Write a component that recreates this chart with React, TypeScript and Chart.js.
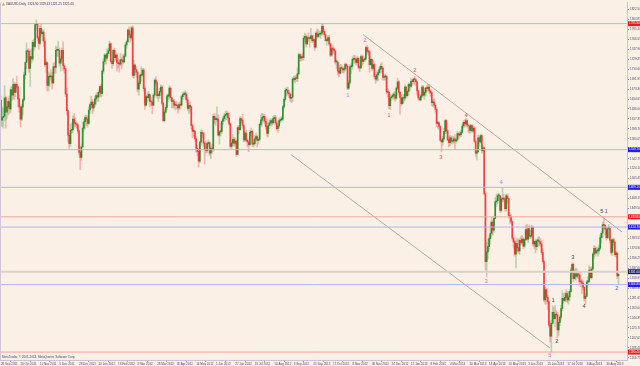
import React, { useEffect, useRef } from "react";
import { Chart, registerables } from "chart.js";

Chart.register(...registerables);

// ---- Daily XAUUSD bars, 28 Sep 2011 .. 13 Sep 2013 ----
const opens = [
1652,1615,1620,1622,1657,1630,1640,1650,1636,1672,
1662,1682,1667,1682,1677,1655,1640,1617,1640,1653,
1700,1723,1745,1744,1712,1734,1730,1761,1753,1794,
1795,1769,1759,1787,1777,1780,1763,1719,1723,1680,
1697,1696,1697,1685,1715,1714,1746,1746,1746,1722,
1730,1746,1717,1711,1664,1633,1587,1571,1596,1597,
1617,1610,1608,1606,1595,1555,1545,1565,1600,1612,
1620,1617,1609,1634,1644,1649,1638,1645,1655,1661,
1658,1667,1678,1665,1707,1725,1737,1731,1740,1745,
1758,1725,1721,1746,1732,1737,1723,1721,1720,1728,
1727,1724,1735,1756,1762,1784,1775,1769,1788,1699,
1718,1710,1705,1673,1684,1699,1700,1709,1674,1643,
1659,1657,1663,1650,1649,1643,1662,1690,1685,1661,
1661,1669,1677,1647,1614,1630,1639,1660,1660,1675,
1657,1650,1650,1643,1643,1642,1638,1644,1643,1659,
1663,1664,1664,1653,1637,1643,1640,1605,1594,1594,
1580,1562,1556,1538,1574,1592,1590,1572,1560,1558,
1571,1573,1553,1562,1560,1622,1616,1616,1617,1587,
1593,1594,1613,1618,1623,1626,1628,1619,1608,1566,
1572,1579,1572,1576,1551,1601,1597,1618,1615,1605,
1578,1591,1577,1574,1569,1592,1594,1570,1571,1580,
1584,1577,1579,1607,1615,1620,1622,1613,1603,1590,
1605,1610,1614,1610,1618,1620,1610,1599,1604,1614,
1616,1617,1640,1654,1671,1671,1666,1664,1656,1658,
1692,1691,1694,1693,1702,1738,1731,1734,1732,1769,
1772,1758,1770,1768,1768,1773,1764,1766,1752,1778,
1772,1776,1776,1778,1791,1781,1775,1764,1765,1770,
1758,1737,1749,1748,1745,1724,1724,1707,1703,1713,
1712,1709,1711,1719,1716,1675,1685,1715,1716,1729,
1731,1729,1723,1731,1714,1713,1734,1725,1728,1730,
1751,1744,1743,1719,1729,1712,1719,1697,1692,1700,
1704,1710,1716,1712,1695,1696,1697,1668,1667,1642,
1657,1659,1662,1662,1656,1675,1687,1667,1657,1646,
1657,1656,1677,1661,1669,1682,1678,1688,1687,1692,
1691,1687,1670,1657,1653,1660,1677,1662,1667,1675,
1674,1677,1670,1666,1648,1649,1643,1635,1609,1610,
1603,1577,1574,1580,1594,1614,1595,1578,1573,1582,
1575,1576,1580,1576,1578,1590,1587,1588,1592,1604,
1611,1608,1614,1606,1604,1596,1605,1595,1600,1575,
1553,1556,1582,1574,1586,1558,1563,1477,1350,1368,
1378,1393,1403,1424,1409,1431,1462,1464,1473,1473,
1446,1467,1469,1467,1449,1473,1468,1436,1434,1425,
1394,1387,1364,1384,1376,1370,1390,1386,1392,1379,
1391,1410,1392,1412,1397,1398,1414,1383,1388,1378,
1389,1389,1387,1383,1367,1350,1278,1297,1283,1275,
1231,1210,1234,1255,1243,1251,1250,1222,1236,1246,
1262,1281,1277,1283,1290,1278,1284,1294,1334,1345,
1318,1327,1322,1327,1325,1313,1312,1309,1302,1281,
1285,1312,1313,1334,1320,1336,1364,1375,1366,1370,
1370,1375,1395,1403,1419,1418,1411,1395,1412,1412,
1390,1367,1391,1386,1363,1366,1323
];
const highs = [
1660,1640,1637,1680,1660,1650,1657,1660,1677,1678,
1693,1685,1685,1697,1680,1662,1643,1645,1656,1705,
1725,1760,1748,1748,1745,1748,1764,1767,1796,1803,
1797,1772,1792,1795,1785,1784,1770,1730,1725,1706,
1703,1710,1704,1722,1723,1754,1752,1763,1750,1735,
1750,1762,1721,1712,1675,1635,1590,1607,1610,1623,
1628,1620,1612,1609,1597,1565,1570,1612,1617,1624,
1625,1623,1640,1646,1660,1654,1650,1660,1665,1667,
1671,1680,1682,1710,1730,1740,1739,1748,1750,1763,
1760,1729,1748,1750,1745,1740,1730,1728,1740,1733,
1738,1740,1760,1765,1786,1790,1781,1791,1792,1727,
1720,1716,1707,1688,1702,1715,1712,1712,1678,1662,
1666,1669,1665,1658,1652,1665,1693,1696,1688,1665,
1675,1681,1680,1648,1635,1644,1663,1665,1680,1677,
1658,1655,1654,1648,1650,1645,1648,1650,1662,1667,
1668,1670,1668,1657,1647,1649,1642,1608,1600,1597,
1584,1568,1560,1576,1597,1596,1592,1574,1576,1574,
1578,1575,1566,1570,1626,1628,1622,1640,1625,1596,
1609,1615,1622,1628,1631,1633,1630,1628,1610,1576,
1588,1583,1582,1578,1605,1605,1622,1620,1626,1607,
1594,1596,1580,1576,1596,1600,1596,1578,1586,1591,
1587,1582,1610,1625,1628,1627,1626,1620,1617,1610,
1615,1618,1617,1622,1624,1624,1614,1608,1618,1620,
1622,1643,1657,1675,1676,1677,1672,1666,1664,1695,
1697,1698,1700,1713,1741,1740,1738,1740,1773,1778,
1775,1773,1778,1771,1787,1775,1774,1769,1781,1786,
1784,1782,1782,1796,1796,1785,1778,1768,1774,1774,
1760,1752,1755,1750,1747,1730,1726,1718,1720,1719,
1715,1715,1722,1722,1718,1689,1718,1722,1733,1737,
1736,1732,1735,1733,1718,1737,1737,1735,1732,1754,
1755,1752,1746,1733,1730,1727,1722,1702,1706,1709,
1714,1720,1723,1715,1700,1702,1699,1674,1670,1664,
1662,1665,1668,1668,1677,1694,1689,1669,1662,1662,
1663,1681,1679,1672,1685,1684,1693,1692,1694,1697,
1693,1688,1672,1663,1664,1680,1680,1674,1677,1680,
1682,1682,1672,1668,1654,1655,1646,1638,1613,1612,
1605,1582,1585,1600,1616,1616,1598,1584,1586,1585,
1585,1584,1588,1582,1594,1592,1594,1597,1608,1614,
1616,1618,1616,1608,1606,1607,1607,1604,1603,1578,
1562,1587,1585,1589,1588,1568,1565,1480,1386,1392,
1398,1424,1433,1428,1435,1470,1476,1478,1478,1474,
1470,1488,1476,1470,1476,1477,1470,1442,1438,1428,
1396,1390,1389,1394,1392,1393,1397,1399,1395,1393,
1418,1420,1416,1419,1408,1418,1416,1389,1392,1392,
1396,1397,1393,1389,1375,1352,1302,1300,1286,1277,
1237,1240,1267,1264,1268,1258,1255,1242,1250,1268,
1295,1290,1292,1297,1294,1293,1298,1338,1348,1347,
1335,1338,1336,1330,1330,1324,1317,1314,1303,1290,
1315,1322,1342,1340,1340,1367,1380,1378,1377,1377,
1381,1400,1406,1424,1434,1420,1415,1414,1420,1416,
1392,1393,1394,1388,1370,1368,1331
];
const lows = [
1605,1603,1600,1614,1600,1617,1625,1627,1630,1652,
1655,1654,1659,1668,1640,1630,1603,1614,1625,1650,
1692,1712,1727,1705,1678,1722,1726,1745,1750,1784,
1764,1748,1756,1772,1764,1753,1715,1705,1670,1670,
1678,1690,1673,1683,1702,1703,1734,1735,1716,1707,
1725,1708,1703,1659,1625,1574,1562,1566,1590,1592,
1600,1603,1600,1590,1550,1522,1540,1565,1595,1598,
1605,1602,1607,1628,1637,1627,1632,1640,1645,1650,
1650,1660,1658,1660,1702,1720,1720,1727,1735,1740,
1722,1712,1717,1725,1728,1707,1713,1705,1717,1711,
1720,1722,1733,1750,1760,1771,1761,1765,1695,1693,
1700,1695,1668,1662,1680,1688,1697,1668,1635,1641,
1648,1652,1640,1642,1627,1642,1658,1680,1656,1650,
1656,1666,1643,1612,1611,1628,1634,1650,1655,1652,
1638,1638,1637,1634,1636,1628,1634,1636,1641,1653,
1660,1655,1648,1633,1627,1630,1598,1582,1585,1575,
1555,1548,1527,1535,1568,1582,1566,1533,1553,1554,
1566,1548,1543,1553,1556,1609,1605,1612,1585,1570,
1585,1590,1607,1612,1615,1616,1612,1605,1563,1562,
1567,1566,1568,1547,1550,1590,1596,1609,1600,1574,
1575,1574,1565,1556,1567,1585,1566,1565,1568,1576,
1565,1570,1576,1603,1605,1612,1609,1598,1585,1583,
1600,1605,1604,1607,1610,1606,1596,1592,1600,1610,
1612,1614,1636,1650,1660,1662,1657,1650,1648,1650,
1688,1685,1688,1687,1700,1725,1726,1728,1727,1762,
1752,1757,1762,1752,1766,1760,1761,1745,1750,1768,
1770,1770,1768,1774,1775,1771,1762,1755,1762,1755,
1734,1735,1740,1738,1720,1712,1700,1696,1701,1703,
1704,1703,1707,1710,1672,1672,1682,1702,1710,1724,
1722,1718,1720,1711,1706,1712,1718,1720,1725,1728,
1740,1737,1705,1717,1708,1710,1692,1684,1688,1689,
1700,1703,1705,1690,1690,1690,1664,1658,1636,1635,
1652,1655,1654,1650,1654,1672,1662,1626,1642,1644,
1648,1652,1656,1658,1662,1670,1676,1680,1683,1682,
1680,1662,1653,1652,1651,1657,1660,1654,1660,1668,
1670,1665,1660,1642,1640,1640,1630,1603,1600,1597,
1575,1555,1568,1577,1589,1590,1576,1565,1567,1571,
1570,1572,1560,1572,1575,1580,1583,1584,1590,1600,
1602,1604,1602,1592,1590,1592,1593,1592,1573,1547,
1540,1553,1566,1572,1553,1555,1475,1335,1321,1355,
1370,1383,1397,1400,1405,1430,1453,1458,1463,1442,
1443,1462,1462,1445,1444,1460,1431,1422,1420,1390,
1375,1360,1338,1368,1365,1363,1381,1383,1374,1376,
1389,1390,1385,1394,1393,1395,1379,1374,1366,1372,
1377,1380,1378,1363,1346,1275,1270,1270,1260,1227,
1199,1180,1233,1240,1228,1245,1207,1212,1230,1240,
1258,1272,1275,1275,1273,1270,1276,1292,1330,1312,
1317,1315,1320,1318,1306,1303,1290,1297,1276,1270,
1284,1306,1310,1318,1317,1334,1356,1360,1364,1360,
1364,1372,1385,1395,1410,1400,1390,1393,1394,1385,
1364,1361,1380,1360,1358,1318,1308
];
const closes = [
1615,1620,1622,1657,1630,1640,1650,1636,1672,1662,
1682,1667,1682,1677,1655,1640,1617,1640,1653,1700,
1723,1745,1744,1712,1734,1730,1761,1753,1794,1795,
1769,1759,1787,1777,1780,1763,1719,1723,1680,1697,
1696,1697,1685,1715,1714,1746,1746,1746,1722,1730,
1746,1717,1711,1664,1633,1587,1571,1596,1597,1617,
1610,1608,1606,1595,1555,1545,1565,1600,1612,1620,
1617,1609,1634,1644,1649,1638,1645,1655,1661,1658,
1667,1678,1665,1707,1725,1737,1731,1740,1745,1758,
1725,1721,1746,1732,1737,1723,1721,1720,1728,1727,
1724,1735,1756,1762,1784,1775,1769,1788,1699,1718,
1710,1705,1673,1684,1699,1700,1709,1674,1643,1659,
1657,1663,1650,1649,1643,1662,1690,1685,1661,1661,
1669,1677,1647,1614,1630,1639,1660,1660,1675,1657,
1650,1650,1643,1643,1642,1638,1644,1643,1659,1663,
1664,1664,1653,1637,1643,1640,1605,1594,1594,1580,
1562,1556,1538,1574,1592,1590,1572,1560,1558,1571,
1573,1553,1562,1560,1622,1616,1616,1617,1587,1593,
1594,1613,1618,1623,1626,1628,1619,1608,1566,1572,
1579,1572,1576,1551,1601,1597,1618,1615,1605,1578,
1591,1577,1574,1569,1592,1594,1570,1571,1580,1584,
1577,1579,1607,1615,1620,1622,1613,1603,1590,1605,
1610,1614,1610,1618,1620,1610,1599,1604,1614,1616,
1617,1640,1654,1671,1671,1666,1664,1656,1658,1692,
1691,1694,1693,1702,1738,1731,1734,1732,1769,1772,
1758,1770,1768,1768,1773,1764,1766,1752,1778,1772,
1776,1776,1778,1791,1781,1775,1764,1765,1770,1758,
1737,1749,1748,1745,1724,1724,1707,1703,1713,1712,
1709,1711,1719,1716,1675,1685,1715,1716,1729,1731,
1729,1723,1731,1714,1713,1734,1725,1728,1730,1751,
1744,1743,1719,1729,1712,1719,1697,1692,1700,1704,
1710,1716,1712,1695,1696,1697,1668,1667,1642,1657,
1659,1662,1662,1656,1675,1687,1667,1657,1646,1657,
1656,1677,1661,1669,1682,1678,1688,1687,1692,1691,
1687,1670,1657,1653,1660,1677,1662,1667,1675,1674,
1677,1670,1666,1648,1649,1643,1635,1609,1610,1603,
1577,1574,1580,1594,1614,1595,1578,1573,1582,1575,
1576,1580,1576,1578,1590,1587,1588,1592,1604,1611,
1608,1614,1606,1604,1596,1605,1595,1600,1575,1553,
1556,1582,1574,1586,1558,1563,1477,1350,1368,1378,
1393,1403,1424,1409,1431,1462,1464,1473,1473,1446,
1467,1469,1467,1449,1473,1468,1436,1434,1425,1394,
1387,1364,1384,1376,1370,1390,1386,1392,1379,1391,
1410,1392,1412,1397,1398,1414,1383,1388,1378,1389,
1389,1387,1383,1367,1350,1278,1297,1283,1275,1231,
1210,1234,1255,1243,1251,1250,1222,1236,1246,1262,
1281,1277,1283,1290,1278,1284,1294,1334,1345,1318,
1327,1322,1327,1325,1313,1312,1309,1302,1281,1285,
1312,1313,1334,1320,1336,1364,1375,1366,1370,1370,
1375,1395,1403,1419,1418,1411,1395,1412,1412,1390,
1367,1391,1386,1363,1366,1323,1326
];

// ---- axis labels ----
const xTickLabels = [
"28 Sep 2011","20 Oct 2011","11 Nov 2011","5 Dec 2011","28 Dec 2011","20 Jan 2012",
"13 Feb 2012","6 Mar 2012","28 Mar 2012","20 Apr 2012","14 May 2012","5 Jun 2012",
"27 Jun 2012","19 Jul 2012","10 Aug 2012","3 Sep 2012","25 Sep 2012","17 Oct 2012",
"8 Nov 2012","30 Nov 2012","24 Dec 2012","17 Jan 2013","8 Feb 2013","4 Mar 2013",
"26 Mar 2013","18 Apr 2013","10 May 2013","3 Jun 2013","25 Jun 2013","17 Jul 2013",
"8 Aug 2013","30 Aug 2013"
];
const xTickBars = [0,16,32,48,64,80,96,112,128,144,160,176,192,208,224,240,256,272,288,304,320,336,352,368,384,400,416,432,448,464,480,496];
const yTickValues = [
1822.50,1803.85,1785.20,1766.55,1747.90,1729.25,1710.60,1691.95,1673.30,1654.65,
1636.00,1617.35,1598.70,1580.05,1561.40,1542.75,1524.10,1505.45,1486.80,1468.15,
1449.50,1430.85,1412.20,1393.55,1374.90,1356.25,1337.60,1318.95,1300.30,1281.65,
1263.00,1244.35,1225.70,1207.05,1188.40,1169.75
];

// ---- drawn objects (price levels, trend lines, wave counts) ----
const redLevels = [1795.90, 1433.80, 1180.40];
const blueLevels = [1559.70, 1489.10, 1414.70, 1306.80];
const bidLevels = [1331.00];
const upperTrendBars = [296.7, 508.9];
const upperTrendPrices = [1775.4, 1405.4];
const lowerTrendBars = [237.7, 449.9];
const lowerTrendPrices = [1550.4, 1187.8];
const waveTexts = ["1","2","1","2","3","4","3","4","5","1","2","3","4","5","1","2"];
const waveBars = [284.4,298.3,318.0,339.3,360.6,381.1,397.5,409.8,449.9,452.4,455.6,468.7,477.8,492.5,495.8,504.8];
const wavePrices = [1662.0,1764.3,1624.8,1708.5,1544.9,1624.8,1312.4,1498.4,1174.8,1277.1,1200.9,1357.1,1266.0,1444.4,1444.4,1299.4];
const waveGroups = [0,0,1,1,1,1,0,0,0,2,2,2,2,2,3,3];

const headerText = "XAUUSD,Daily  1324.90 1329.43 1321.25 1325.43";
const footerText = "MetaTrader, \u00A9 2001-2013, MetaQuotes Software Corp.";

// ---- styles ----
const BG = "#FBF0E6";
const FONT = "'Liberation Sans', Arial, sans-serif";
const AXIS_TEXT = "#4a4a72";
const waveColors = ["#E46AD8", "#C8605A", "#505050", "#5A5AD8"];

export default function App() {
  const ref = useRef<HTMLCanvasElement | null>(null);

  useEffect(() => {
    const canvas = ref.current;
    if (!canvas) return;
    const wickData = closes.map((_, i) => ({ x: i, y: [lows[i], highs[i]] }));
    const bodyData = closes.map((c, i) => ({ x: i, y: [opens[i], c] }));
    const bull = closes.map((c, i) => c >= opens[i]);
    const xMin = -0.74;
    const xMax = 512.97;

    const hLine = (v: number, color: string, width: number, label: string) => ({
      type: "line" as const,
      label,
      data: [{ x: xMin, y: v }, { x: xMax, y: v }],
      borderColor: color,
      borderWidth: width,
      pointRadius: 0,
      fill: false,
      order: 0,
    });

    const datasets: any[] = [
      {
        type: "bar",
        label: "range",
        data: wickData,
        backgroundColor: bull.map((b) => (b ? "rgba(130,180,120,0.5)" : "rgba(240,120,120,0.5)")),
        borderWidth: 0,
        barThickness: 1,
        grouped: false,
        order: 3,
      },
      {
        type: "bar",
        label: "body",
        data: bodyData,
        backgroundColor: bull.map((b) => (b ? "rgba(24,132,24,0.85)" : "rgba(238,44,44,0.85)")),
        borderWidth: 0,
        barThickness: 1,
        minBarLength: 1,
        grouped: false,
        order: 2,
      },
      ...redLevels.map((v, i) => hLine(v, "#F2A69C", 1, "red" + i)),
      ...blueLevels.map((v, i) => hLine(v, "#B4B4EE", 1, "blue" + i)),
      ...bidLevels.map((v, i) => hLine(v, "#D9D2CA", 2, "bid" + i)),
      {
        type: "line",
        label: "upper trend",
        data: upperTrendBars.map((b, i) => ({ x: b, y: upperTrendPrices[i] })),
        borderColor: "#B8ADA4",
        borderWidth: 1,
        pointRadius: 0,
        fill: false,
        order: 0,
      },
      {
        type: "line",
        label: "lower trend",
        data: lowerTrendBars.map((b, i) => ({ x: b, y: lowerTrendPrices[i] })),
        borderColor: "#B8ADA4",
        borderWidth: 1,
        pointRadius: 0,
        fill: false,
        order: 0,
      },
    ];

    const bgPlugin = {
      id: "bg",
      beforeDraw(chart: any) {
        const ctx = chart.ctx;
        ctx.save();
        ctx.fillStyle = BG;
        ctx.fillRect(0, 0, chart.width, chart.height);
        ctx.restore();
      },
    };

    const overlay = {
      id: "overlay",
      afterDatasetsDraw(chart: any) {
        const { ctx, scales } = chart;
        const x = scales.x;
        const y = scales.y;
        ctx.save();
        ctx.font = `6px ${FONT}`;
        ctx.textAlign = "center";
        ctx.textBaseline = "middle";
        waveTexts.forEach((t, i) => {
          ctx.fillStyle = waveColors[waveGroups[i]];
          ctx.fillText(t, x.getPixelForValue(waveBars[i]), y.getPixelForValue(wavePrices[i]));
        });
        ctx.restore();
      },
      afterDraw(chart: any) {
        const { ctx, scales, chartArea } = chart;
        const y = scales.y;
        ctx.save();
        const box = (v: number, fill: string) => {
          const py = y.getPixelForValue(v);
          ctx.fillStyle = fill;
          ctx.fillRect(chartArea.right + 1, py - 2.5, 14, 5);
          ctx.fillStyle = "#FFFFFF";
          ctx.font = `3px ${FONT}`;
          ctx.textAlign = "left";
          ctx.textBaseline = "middle";
          ctx.fillText(v.toFixed(2), chartArea.right + 2, py);
        };
        redLevels.forEach((v) => box(v, "#F01818"));
        blueLevels.forEach((v) => box(v, "#2020E8"));
        bidLevels.forEach((v) => box(v, "#20207A"));
        ctx.strokeStyle = "#CFC8D8";
        ctx.lineWidth = 1;
        ctx.beginPath();
        ctx.moveTo(0.5, chartArea.top);
        ctx.lineTo(0.5, chartArea.bottom);
        ctx.stroke();
        ctx.font = `3px ${FONT}`;
        ctx.textAlign = "left";
        ctx.textBaseline = "middle";
        ctx.fillStyle = "#3A3A6A";
        ctx.fillText(headerText, 6, 4);
        ctx.fillStyle = "#C8B040";
        ctx.beginPath();
        ctx.moveTo(2, 5.5);
        ctx.lineTo(3.5, 2.5);
        ctx.lineTo(5, 5.5);
        ctx.closePath();
        ctx.fill();
        ctx.fillStyle = "#4A4A72";
        ctx.fillText(footerText, 2, chartArea.bottom - 3);
        ctx.restore();
      },
    };

    const chart = new Chart(canvas, {
      type: "bar",
      data: { datasets },
      plugins: [bgPlugin, overlay],
      options: {
        animation: false,
        responsive: false,
        devicePixelRatio: 1,
        events: [],
        layout: { padding: { left: 0, top: 0, right: 0, bottom: 0 } },
        plugins: { legend: { display: false }, tooltip: { enabled: false }, title: { display: false } },
        scales: {
          x: {
            type: "linear",
            min: xMin,
            max: xMax,
            offset: false,
            afterBuildTicks: (s: any) => {
              s.ticks = xTickBars.map((v) => ({ value: v }));
            },
            afterFit: (s: any) => {
              s.height = 6;
            },
            ticks: {
              autoSkip: false,
              maxRotation: 0,
              minRotation: 0,
              align: "start",
              padding: 0,
              color: AXIS_TEXT,
              font: { size: 3, family: FONT },
              callback: (_v: any, i: number) => xTickLabels[i],
            },
            grid: { display: true, drawOnChartArea: false, drawTicks: true, tickLength: 2, color: "#9090A8" },
            border: { display: true, color: "#C8C4D4", width: 1 },
          },
          y: {
            type: "linear",
            position: "right",
            min: 1165.5,
            max: 1834.95,
            afterBuildTicks: (s: any) => {
              s.ticks = yTickValues.map((v) => ({ value: v }));
            },
            afterFit: (s: any) => {
              s.width = 13;
            },
            ticks: {
              autoSkip: false,
              padding: 1,
              color: AXIS_TEXT,
              font: { size: 3, family: FONT },
              callback: (v: any) => Number(v).toFixed(2),
            },
            grid: { display: true, drawOnChartArea: false, drawTicks: true, tickLength: 2, color: "#9090A8" },
            border: { display: true, color: "#C8C4D4", width: 1 },
          },
        },
      },
    });
    return () => chart.destroy();
  }, []);

  return (
    <div style={{ position: "fixed", left: 0, top: 0, width: 640, height: 366, background: BG }}>
      <canvas ref={ref} width={640} height={366} style={{ display: "block", width: 640, height: 366 }} />
    </div>
  );
}
